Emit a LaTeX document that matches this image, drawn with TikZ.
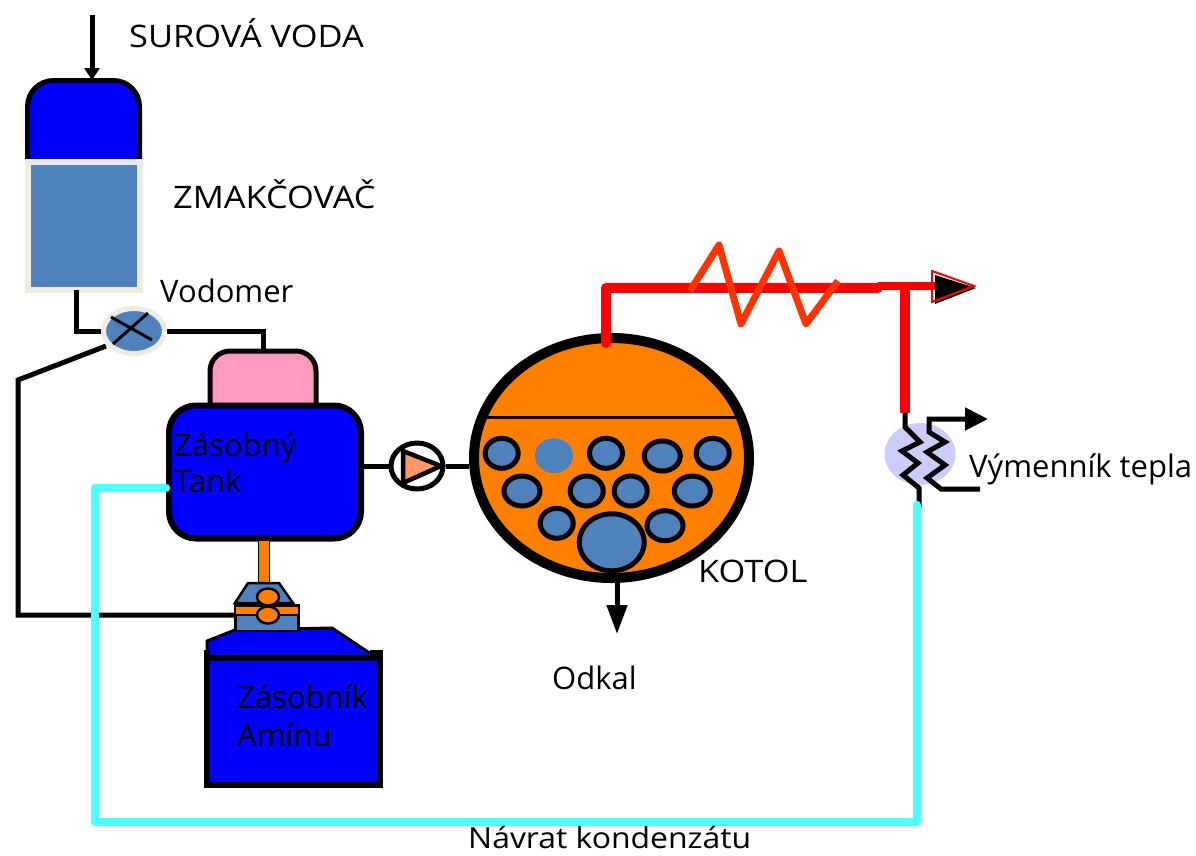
\documentclass[tikz,border=0pt]{standalone}
\usepackage{fontspec}
\setmainfont{Open Sans}
\usetikzlibrary{arrows.meta,shapes.geometric}
\definecolor{steelfill}{HTML}{4F81BD}
\definecolor{creamline}{HTML}{EEECE1}
\definecolor{tankblue}{HTML}{0000FF}
\definecolor{pinkfill}{HTML}{FF99C2}
\definecolor{boilerfill}{HTML}{FF8000}
\definecolor{condcyan}{HTML}{4DFFFF}
\definecolor{pumpfill}{HTML}{FF9966}
\definecolor{zigzag}{HTML}{FF3300}
\definecolor{vymfill}{HTML}{CCCCFF}
\tikzset{
  pipe/.style={draw=black,line width=5pt},
  steam/.style={draw=red,line width=10pt},
  conden/.style={draw=condcyan,line width=8.5pt,line join=round,line cap=round},
  label/.style={anchor=base west,inner sep=0pt,font=\fontsize{31}{36}\selectfont},
  capslabel/.style={label,xscale=1.11,transform shape},
  tubesmall/.style={ellipse,draw=black,line width=5pt,fill=steelfill,inner sep=0pt,minimum width=33pt,minimum height=30pt},
  tubewide/.style={tubesmall,minimum width=36pt},
}
\begin{document}
\begin{tikzpicture}[x=1pt,y=-1pt]
\useasboundingbox (0,0) rectangle (1196,855);

% softener
\draw[fill=tankblue,line width=5pt,rounded corners=26pt] (27.5,162) -- (27.5,80.5) -- (139.5,80.5) -- (139.5,162);
\node[rectangle,draw=creamline,fill=steelfill,line width=6pt,minimum width=112pt,minimum height=128pt,inner sep=0pt] (zmakbody) at (84,226) {};
\coordinate (zmaktop) at (92,80);
\coordinate (surova) at (92,15);
\coordinate (zmakout) at (76,290);
\draw[line width=5pt,-{Triangle[width=15pt,length=12pt]}] (surova) -- (zmaktop);

% water meter
\node[ellipse,draw=creamline,fill=steelfill,line width=5pt,minimum width=61pt,minimum height=45pt,inner sep=0pt] (vodomer) at (134,331) {};
\draw[line width=3pt] (111,317) -- (152,340);
\draw[line width=3pt] (113,344) -- (148,313);

% feed tank
\coordinate (pinktop) at (263,350);
\draw[fill=pinkfill,line width=5pt,rounded corners=20pt] (210,410) -- (210,351) -- (316,351) -- (316,410);
\node[rectangle,draw=black,fill=tankblue,line width=6pt,rounded corners=27pt,minimum width=192pt,minimum height=133pt,inner sep=0pt] (tank) at (265,472) {};
\draw[pipe] (zmakout) |- (vodomer.west);
\draw[pipe] (vodomer.east) -| (pinktop);

% amine store
\draw[fill=tankblue,line width=3pt] (207,660) -- (207,641) -- (235,630) -- (332,628) -- (374,656) -- (374,660) -- cycle;
\fill (204,650) rectangle (210,660);
\fill (370,650) rectangle (383,660);
\node[rectangle,draw=black,fill=tankblue,line width=6pt,minimum width=173pt,minimum height=127pt,inner sep=0pt] (amin) at (293.5,721) {};

% dosing pump
\draw[fill=boilerfill,line width=1.5pt] (258.5,540) rectangle (269.5,592);
\draw[fill=steelfill,line width=2.5pt] (248,583) -- (279,583) -- (293,603) -- (235,603) -- cycle;
\node[rectangle,draw=black,fill=steelfill,line width=2.5pt,minimum width=63pt,minimum height=26pt,inner sep=0pt] (dosbox) at (267,618) {};
\draw[fill=boilerfill,line width=2.5pt] (235,606) rectangle (299,615);
\draw[fill=boilerfill,line width=2.5pt] (268,597) ellipse (11pt and 8.5pt);
\draw[fill=boilerfill,line width=2.5pt] (268,615) ellipse (11pt and 8.5pt);
\coordinate (dosin) at (235,615);
\draw[pipe] (tank.east |- 0,466) -- (390,466);

% control line
\coordinate (vodolow) at (106,346);
\coordinate (ctrlbend) at (18,380);
\draw[line width=5pt,line join=miter] (vodolow) -- (ctrlbend) |- (dosin);

% boiler
\node[ellipse,draw=black,fill=boilerfill,line width=10pt,minimum width=275pt,minimum height=240pt,inner sep=0pt] (boiler) at (611.5,458) {};
\draw[line width=3pt] (487,417.5) -- (736,417.5);
\node[tubesmall] (tube1) at (501.7,453.3) {};
\node[ellipse,fill=steelfill,inner sep=0pt,minimum width=38pt,minimum height=35pt] (tube2) at (554,455.7) {};
\node[tubesmall] (tube3) at (606,453.3) {};
\node[tubewide] (tube4) at (662.3,456) {};
\node[tubesmall] (tube5) at (712.7,453.3) {};
\node[tubewide] (tube6) at (522,491) {};
\node[tubesmall] (tube7) at (586.7,491) {};
\node[tubesmall] (tube8) at (630.7,491) {};
\node[tubewide] (tube9) at (692.3,491) {};
\node[tubesmall] (tube10) at (556.7,523.3) {};
\node[tubewide] (tube11) at (665,525.7) {};
\node[tubesmall,minimum width=65pt,minimum height=57pt] (tube12) at (611.7,542.3) {};

% pump
\node[ellipse,draw=black,fill=white,line width=5pt,minimum width=52pt,minimum height=46pt,inner sep=0pt] (pump) at (417,466) {};
\draw[fill=pumpfill,line width=4.5pt] (403,451) -- (441,466) -- (403,483) -- cycle;
\draw[pipe] (pump.east) -- (pump.east -| boiler.west);

% sludge outlet
\coordinate (odkalout) at (617,634);
\draw[line width=5pt,-{Triangle[width=20pt,length=29pt]}] (boiler.south -| odkalout) -- (odkalout);

% steam line
\coordinate (steamout) at (606,343);
\coordinate (steamjog) at (878,288);
\coordinate (steamlow) at (878,286);
\coordinate (steamtee) at (905,286);
\coordinate (steamend) at (935,286);
\coordinate (vymtop) at (905,413);
\draw[steam,line cap=round,line join=round] (steamout) -- (606,288) -- (steamjog);
\draw[steam,line width=8pt] (steamlow) -- (steamend);
\draw[steam] (steamtee) -- (vymtop);
\fill (935,275) -- (976,288) -- (935,304) -- cycle;
\draw[red,line width=2pt] (932,271) -- (974,286) -- (932,302) -- cycle;

% superheater
\draw[draw=zigzag,line width=7pt,line join=round] (690,291) -- (719,245) -- (741,324) -- (779,251) -- (806,324) -- (838,281);

% heat exchanger
\node[ellipse,fill=vymfill,inner sep=0pt,minimum width=71pt,minimum height=62pt] (vymenik) at (920,454) {};
\coordinate (vymin) at (929,419);
\coordinate (vymend) at (988,419);
\coordinate (vymret) at (980,489);
\coordinate (vymbot) at (919,507);
\draw[line width=5pt] (vymtop) -- (905,427) -- (920,442) -- (902,451) -- (918,463) -- (903,475) -- (919,488) -- (vymbot);
\draw[line width=5pt,-{Triangle[width=22pt,length=23pt]}] (vymret) -- (941,489) -- (927,478) -- (945,465) -- (927,452) -- (945,442) -- (929,432) -- (vymin) -- (vymend);

% condensate
\coordinate (vymcond) at (917,505);
\draw[conden] (vymcond) |- (95,822) |- (tank.west |- 0,488);

% labels
\node[capslabel] (lsurova) at (129,47) {SUROVÁ VODA};
\node[capslabel] (lzmak) at (173,208) {ZMAKČOVAČ};
\node[label] (lvodomer) at (160,302) {Vodomer};
\node[label] (ltank1) at (174,456) {Zásobný};
\node[label] (ltank2) at (174,492) {Tank};
\node[label] (lamin1) at (237,708) {Zásobník};
\node[label] (lamin2) at (237,746) {Amínu};
\node[capslabel] (lkotol) at (698,582) {KOTOL};
\node[label] (lodkal) at (552,689) {Odkal};
\node[label] (lvym) at (969,477) {Výmenník tepla};
\node[label,font=\fontsize{29}{34}\selectfont,xscale=1.1,transform shape] (lnavrat) at (468,848) {Návrat kondenzátu};
\end{tikzpicture}
\end{document}
